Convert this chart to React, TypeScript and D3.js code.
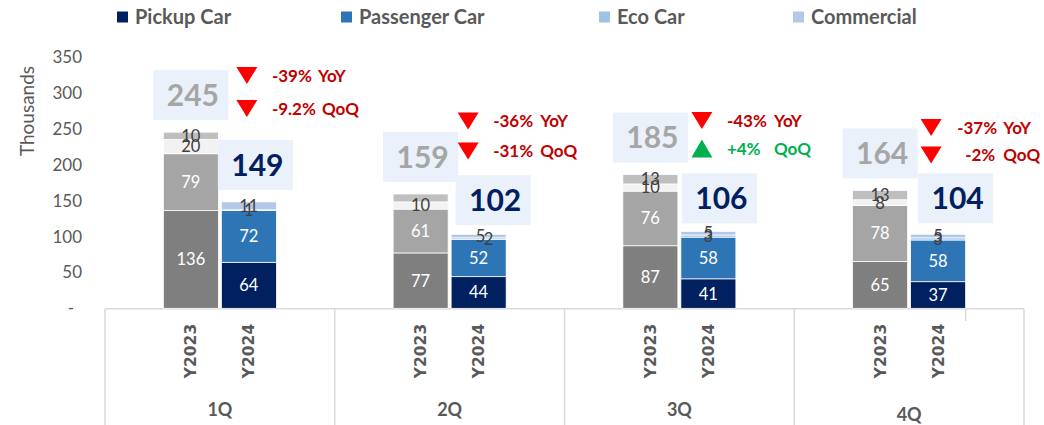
import React from 'react';
import * as d3 from 'd3';

// ---------- data ----------
const quarters = ['1Q', '2Q', '3Q', '4Q'];
const years = ['Y2023', 'Y2024'];
const seriesNames = ['Pickup Car', 'Passenger Car', 'Eco Car', 'Commercial'];

const pickup2023 = [136, 77, 87, 65];
const passenger2023 = [79, 61, 76, 78];
const eco2023 = [20, 10, 10, 8];
const commercial2023 = [10, 11, 13, 13];

const pickup2024 = [64, 44, 41, 37];
const passenger2024 = [72, 52, 58, 58];
const eco2024 = [1, 2, 3, 3];
const commercial2024 = [11, 5, 5, 5];

const total2023 = [245, 159, 185, 164];
const total2024 = [149, 102, 106, 104];

const yoyValues = ['-39%', '-36%', '-43%', '-37%'];
const qoqValues = ['-9.2%', '-31%', '+4%', '-2%'];

const yTicks = [0, 50, 100, 150, 200, 250, 300, 350];

// ---------- styles / layout ----------
const colors2024 = ['#002060', '#2E75B6', '#9DC3E6', '#B4C7E7'];
const colors2023 = ['#7F7F7F', '#A5A5A5', '#F2F2F2', '#BFBFBF'];
const legendX = [117, 341, 599, 793];
const FONT = 'Lato, "Open Sans", sans-serif';
const TEXT = '#595959';
const GRID = '#D9D9D9';
const BOX = '#EAF1FA';
const RED = '#C00000';
const GREEN = '#00B050';

// hidden label (segment key)
const hiddenLabels = new Set(['0-3-1']); // year 0, series 3 (Commercial), quarter 1
const labelDx: Record<string, number> = { '1-3-1': 2, '1-2-1': 10 };

// annotation placement per quarter (offsets from quarter center / absolute y)
const annTriDx = [27, 18.5, 22.5, 22];
const annValDx = [52, 43.5, 47.5, 48];
const annQoqValDx = [52, 43.5, 47.5, 56];
const annTagDx = [[98, 102], [90.5, 90.5], [94.5, 94.5], [94, 94]];
const annYoyY = [75.5, 121, 120.5, 127.5];
const annQoqY = [108.5, 151, 148.5, 155];
const box2024Dx = [6.5, 14.5, 11, 17.5];
const box2024Gap = [12, 9, 8, 11];
const qLabelDy = [0, 0, 0, 5];

export default function App() {
  const left = 105, right = 1024, top = 56.7, bottom = 308.3;
  const y = d3.scaleLinear().domain([0, 350]).range([bottom, top]);
  const x0 = d3.scaleBand<string>().domain(quarters).range([left, right]).padding(0);
  const cw = x0.bandwidth();
  const x1 = d3.scaleBand<string>().domain(years).range([(cw - 113) / 2, (cw + 113) / 2]).paddingInner(0.052);
  const bw = x1.bandwidth();

  const data2023 = quarters.map((q, i) => ({ q, v: [pickup2023[i], passenger2023[i], eco2023[i], commercial2023[i]] }));
  const data2024 = quarters.map((q, i) => ({ q, v: [pickup2024[i], passenger2024[i], eco2024[i], commercial2024[i]] }));
  const stackGen = d3.stack<any>().keys([0, 1, 2, 3] as any).value((d: any, k: any) => d.v[k]);
  const stacks = [stackGen(data2023), stackGen(data2024)];
  const palettes = [colors2023, colors2024];

  const bars: any[] = [];
  const labels: any[] = [];
  stacks.forEach((st, yi) => {
    st.forEach((layer: any, si: number) => {
      layer.forEach((seg: any, qi: number) => {
        const bx = (x0(quarters[qi]) as number) + (x1(years[yi]) as number);
        const y0 = y(seg[1]), y1v = y(seg[0]);
        bars.push(
          <rect key={`b${yi}-${si}-${qi}`} x={bx} y={y0} width={bw} height={y1v - y0}
            fill={palettes[yi][si]} stroke="#FFFFFF" strokeWidth={0.75} />
        );
        const key = `${yi}-${si}-${qi}`;
        if (!hiddenLabels.has(key)) {
          const val = seg[1] - seg[0];
          const inside = si < 2;
          labels.push(
            <text key={`l${key}`} x={bx + bw / 2 + (labelDx[key] || 0)} y={(y0 + y1v) / 2} dy="0.36em"
              textAnchor="middle" fontFamily={FONT} fontSize={16.5}
              fill={inside ? '#FFFFFF' : '#404040'}>{val}</text>
          );
        }
      });
    });
  });

  const triDown = (cx: number, cy: number) => `M${cx - 10.5},${cy - 8.5}L${cx + 10.5},${cy - 8.5}L${cx},${cy + 8.5}Z`;
  const triUp = (cx: number, cy: number) => `M${cx - 10.5},${cy + 9}L${cx + 10.5},${cy + 9}L${cx},${cy - 9}Z`;

  return (
    <svg width={1044} height={425} style={{ position: 'absolute', left: 0, top: 0, background: '#fff' }}>
      {/* legend */}
      {seriesNames.map((n, i) => (
        <g key={n}>
          <rect x={legendX[i]} y={11.5} width={11} height={11} fill={colors2024[i]} />
          <text x={legendX[i] + 18} y={17} dy="0.36em" fontFamily={FONT} fontWeight={700} fontSize={20} fill={TEXT}>{n}</text>
        </g>
      ))}

      {/* y axis title */}
      <text transform={`translate(27,111) rotate(-90)`} textAnchor="middle" dy="0.36em" fontFamily={FONT} fontSize={19} fill={TEXT}>Thousands</text>
      {/* y ticks */}
      {yTicks.map((t) => (
        <text key={t} x={t === 0 ? 74 : 82} y={y(t)} dy="0.36em" textAnchor="end" fontFamily={FONT} fontSize={17} fill={TEXT}>
          {t === 0 ? '-' : t}
        </text>
      ))}

      {/* axis frame */}
      <line x1={left} x2={right} y1={bottom + 0.5} y2={bottom + 0.5} stroke={GRID} strokeWidth={1.5} />
      {[...quarters.map((q) => x0(q) as number), right].map((xv, i) => (
        <line key={`sep${i}`} x1={xv} x2={xv} y1={bottom + 0.5} y2={425} stroke={GRID} strokeWidth={1.5} />
      ))}
      <line x1={(x0('4Q') as number) + (x1('Y2024') as number) + bw} x2={(x0('4Q') as number) + (x1('Y2024') as number) + bw}
        y1={bottom + 0.5} y2={321} stroke={GRID} strokeWidth={1.5} />

      {bars}
      {labels}

      {/* total boxes */}
      {quarters.map((q, i) => {
        const c23 = (x0(q) as number) + (x1('Y2023') as number) + bw / 2;
        const c24 = (x0(q) as number) + (x1('Y2024') as number) + bw / 2 + box2024Dx[i];
        const t23 = y(d3.sum(data2023[i].v)) - 12;
        const t24 = y(d3.sum(data2024[i].v)) - box2024Gap[i];
        return (
          <g key={`tot${q}`}>
            <rect x={c23 - 37.5} y={t23 - 50} width={75} height={50} fill={BOX} />
            <text x={c23 + 2} y={t23 - 25} dy="0.36em" textAnchor="middle" fontFamily={FONT} fontWeight={700} fontSize={30} fill="#A6A6A6">{total2023[i]}</text>
            <rect x={c24 - 37.5} y={t24 - 50} width={75} height={50} fill={BOX} />
            <text x={c24 + 2} y={t24 - 25} dy="0.36em" textAnchor="middle" fontFamily={FONT} fontWeight={700} fontSize={30} fill="#002060">{total2024[i]}</text>
          </g>
        );
      })}

      {/* YoY / QoQ annotations */}
      {quarters.map((q, i) => {
        const cx = (x0(q) as number) + cw / 2;
        const up = qoqValues[i].startsWith('+');
        const qColor = up ? GREEN : RED;
        return (
          <g key={`ann${q}`}>
            <path d={triDown(cx + annTriDx[i], annYoyY[i])} fill="#FF0000" />
            <text x={cx + annValDx[i]} y={annYoyY[i]} dy="0.36em" fontFamily={FONT} fontWeight={700} fontSize={17} fill={RED}>{yoyValues[i]}</text>
            <text x={cx + annTagDx[i][0]} y={annYoyY[i]} dy="0.36em" fontFamily={FONT} fontWeight={700} fontSize={17} fill={RED}>YoY</text>
            <path d={up ? triUp(cx + annTriDx[i], annQoqY[i]) : triDown(cx + annTriDx[i], annQoqY[i])} fill={up ? GREEN : '#FF0000'} />
            <text x={cx + annQoqValDx[i]} y={annQoqY[i]} dy="0.36em" fontFamily={FONT} fontWeight={700} fontSize={17} fill={qColor}>{qoqValues[i]}</text>
            <text x={cx + annTagDx[i][1]} y={annQoqY[i]} dy="0.36em" fontFamily={FONT} fontWeight={700} fontSize={17} fill={qColor}>QoQ</text>
          </g>
        );
      })}

      {/* category labels */}
      {quarters.map((q) =>
        years.map((yr) => {
          const cx = (x0(q) as number) + (x1(yr) as number) + bw / 2;
          return (
            <text key={`${q}${yr}`} transform={`translate(${cx},351) rotate(-90)`} textAnchor="middle" dy="0.36em"
              fontFamily='"DejaVu Sans", sans-serif' fontWeight={700} fontSize={15.5} fill={TEXT}>{yr}</text>
          );
        })
      )}
      {quarters.map((q, i) => (
        <text key={`q${q}`} x={(x0(q) as number) + cw / 2} y={410 + qLabelDy[i]} dy="0.36em" textAnchor="middle"
          fontFamily={FONT} fontWeight={700} fontSize={18} fill={TEXT}>{q}</text>
      ))}
    </svg>
  );
}
